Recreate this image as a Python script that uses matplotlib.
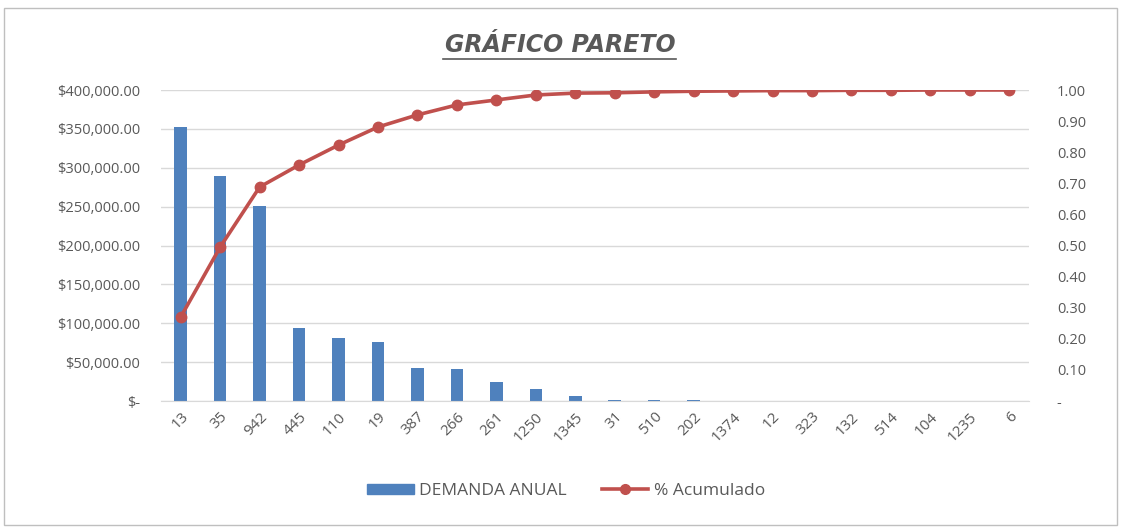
import matplotlib
matplotlib.use("Agg")
import matplotlib.pyplot as plt
from matplotlib.ticker import FuncFormatter, FixedLocator
from matplotlib.patches import Rectangle
from matplotlib.lines import Line2D

# ---- data ----
codigos = ["13", "35", "942", "445", "110", "19", "387", "266", "261", "1250",
           "1345", "31", "510", "202", "1374", "12", "323", "132", "514", "104",
           "1235", "6"]
demanda = [353000, 289000, 251000, 94000, 81500, 76000, 42500, 41000, 24500,
           15500, 6500, 1500, 1400, 1300, 300, 250, 200, 150, 100, 80, 50, 20]
acumulado = [0.27, 0.495, 0.688, 0.759, 0.823, 0.881, 0.92, 0.952, 0.968,
             0.984, 0.990, 0.991, 0.994, 0.996, 0.997, 0.998, 0.998, 0.999,
             0.999, 1.0, 1.0, 1.0]
left_ticks = [0, 50000, 100000, 150000, 200000, 250000, 300000, 350000, 400000]
right_ticks = [0.0, 0.1, 0.2, 0.3, 0.4, 0.5, 0.6, 0.7, 0.8, 0.9, 1.0]

BAR = "#4F81BD"
LINE = "#C0504D"
TXT = "#595959"
GRID = "#D9D9D9"
FONT = ["Open Sans", "DejaVu Sans"]

plt.rcParams["font.family"] = FONT

fig = plt.figure(figsize=(11.21, 5.29), dpi=100)
ax = fig.add_axes([161 / 1121, 1 - 401 / 529, (1029 - 161) / 1121, (401 - 90) / 529])

x = list(range(len(codigos)))
ax.bar(x, demanda, width=0.32, color=BAR, zorder=2)
ax.set_xlim(-0.5, len(codigos) - 0.5)
ax.set_ylim(0, 400000)
ax.yaxis.set_major_locator(FixedLocator(left_ticks))


def money(v, pos):
    return "$-" if v == 0 else f"${v:,.2f}"


ax.yaxis.set_major_formatter(FuncFormatter(money))
ax.set_xticks(x)
ax.set_xticklabels(codigos, rotation=45, ha="right", rotation_mode="anchor")
ax.grid(axis="y", color=GRID, lw=1.0, zorder=0)
ax.set_axisbelow(True)
for side in ["top", "left", "right"]:
    ax.spines[side].set_visible(False)
ax.spines["bottom"].set_color(GRID)
ax.tick_params(axis="both", length=0, colors=TXT, labelsize=10.5)
ax.tick_params(axis="x", labelsize=11, pad=6)
ax.tick_params(axis="y", pad=15)

ax2 = ax.twinx()
ax2.plot(x, acumulado, color=LINE, lw=2.6, marker="o", markersize=7.5, zorder=3)
ax2.set_ylim(0, 1.0)
ax2.yaxis.set_major_locator(FixedLocator(right_ticks))
ax2.yaxis.set_major_formatter(FuncFormatter(lambda v, p: "-" if v == 0 else f"{v:.2f}"))
ax2.tick_params(axis="y", length=0, colors=TXT, labelsize=10.5, pad=20)
for side in ["top", "left", "right", "bottom"]:
    ax2.spines[side].set_visible(False)

fig.text(560 / 1121, 1 - 45 / 529, "GRÁFICO PARETO", ha="center", va="center",
         fontsize=17, fontweight="bold", fontstyle="italic", color=TXT,
         family=["DejaVu Sans"])
fig.add_artist(Line2D([443 / 1121, 676 / 1121], [1 - 59 / 529, 1 - 59 / 529],
                      color=TXT, lw=1.2))

handles = [Rectangle((0, 0), 1, 1, color=BAR),
           Line2D([], [], color=LINE, lw=2.6, marker="o", markersize=7)]
fig.legend(handles, ["DEMANDA ANUAL", "% Acumulado"], loc="center",
           bbox_to_anchor=(566 / 1121, 1 - 491 / 529), ncol=2, frameon=False,
           fontsize=12.5, labelcolor=TXT, handlelength=2.7, handleheight=0.55,
           columnspacing=2.0, handletextpad=0.3)

# chart-area border
fig.add_artist(Rectangle((4 / 1121, 4 / 529), 1113 / 1121, 517 / 529,
                         transform=fig.transFigure, fill=False,
                         edgecolor="#BFBFBF", lw=1.0))

fig.savefig("out.png", dpi=100)
